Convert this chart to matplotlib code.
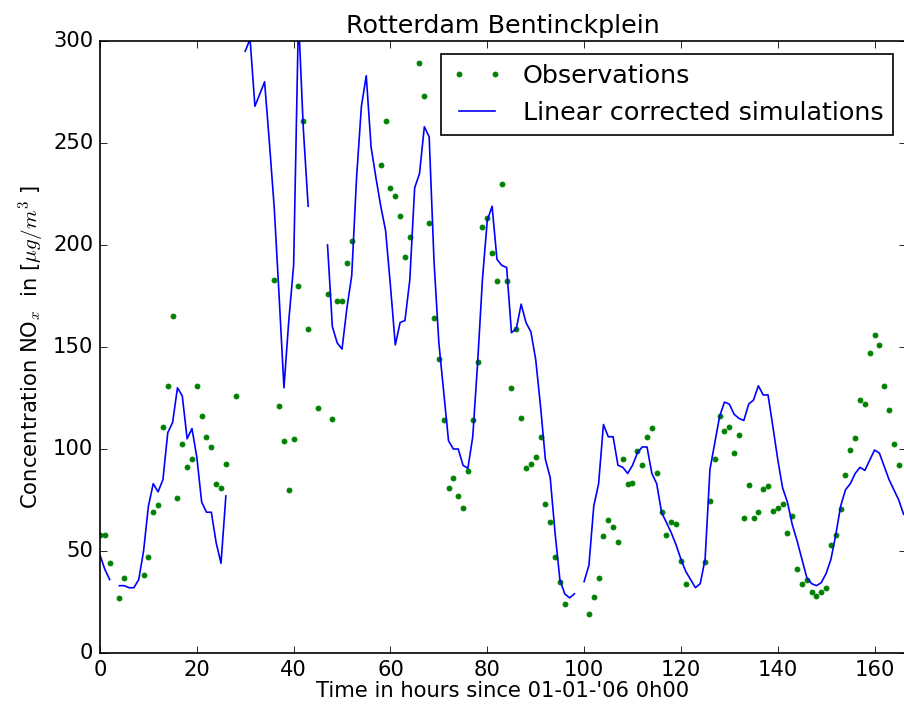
import numpy as np
import matplotlib
matplotlib.use('Agg')
import matplotlib.pyplot as plt

nan = np.nan

hours = np.arange(167)

# observed NOx concentrations (ug/m3), nan where missing
obs = [58, 58, 44, nan, 27, 37, nan, nan, nan, 38,
       47, 69, 72.5, 111, 131, 165, 76, 102.5, 91, 95,
       131, 116, 106, 101, 83, 81, 92.5, nan, 126, nan,
       nan, nan, nan, nan, nan, nan, 183, 121, 104, 80,
       105, 180, 261, 159, nan, 120, nan, 176, 114.5, 172.5,
       172.5, 191, 202, nan, nan, nan, nan, nan, 239, 261,
       228, 224, 214, 194, 204, nan, 289, 273, 211, 164,
       144, 114, 81, 86, 77, 71, 89, 114, 142.5, 209,
       213, 196, 182.5, 230, 182.5, 130, 159, 115, 90.5, 92.5,
       96, 106, 73, 64, 47, 35, 24, nan, nan, nan,
       nan, 19, 27.5, 37, 57.5, 65, 62, 54.5, 95, 83,
       83.5, 99, 92, 106, 110.5, 88, 69, 58, 64, 63,
       45, 34, nan, nan, nan, 44.5, 74.5, 95, 116, 109,
       111, 98, 107, 66, 82.5, 66, 69, 80.5, 82, 69.5,
       71, 73, 59, 67, 41, 34, 36, 30, 28, 30,
       32, 53, 58, 70.5, 87.5, 99.5, 105.5, 124, 122, 147,
       156, 151, 131, 119, 102.5, 92, nan]

# linear corrected simulations
sim = [48, 41, 36, nan, 33, 33, 32, 32, 36, 50,
       72, 83, 79, 85, 108, 113, 130, 126, 105, 110,
       96, 74, 69, 69, 54, 44, 77, nan, nan, nan,
       295, 301, 268, 274, 280, 250, 218, 175, 130, 163,
       190, 312, 257, 219, nan, nan, nan, 200, 160, 152,
       149, 169, 185, 233, 268, 283, 248, 233, 219, 207,
       180, 151, 162, 163, 183, 228, 235, 258, 253, 192,
       152, 128, 104, 100, 100, 92, 90.5, 106, 142, 183,
       212, 219, 193, 190, 189, 157, 159, 171, 162, 157.5,
       144, 121, 95, 86, 59, 36, 29, 27, 29, nan,
       35, 43, 72, 83, 112, 106, 106, 92, 91, 88,
       92, 98, 101, 101, 88, 83, 69, 64, 59, 53,
       46, 40, 36, 32, 34, 46, 90, 103, 116, 123,
       122, 117, 115, 114, 122, 124, 131, 126.5, 126.5, 111,
       95, 81, 74, 63, 55, 46, 37, 34, 33, 34.5,
       39, 46, 58, 72, 80, 83, 88, 91, 89.5, 94.5,
       99.5, 98, 91.5, 85, 80, 75, 68]

plt.style.use('classic')
plt.rcParams['font.size'] = 12.7

fig = plt.figure(figsize=(904 / 120.0, 704 / 120.0), dpi=120, facecolor='white')
ax = fig.add_axes([100 / 904.0, 51 / 704.0, 806 / 904.0, 612 / 704.0])

ax.plot(hours, obs, 'g.', label='Observations')
ax.plot(hours, sim, 'b-', label='Linear corrected simulations')

ax.set_xlim(0, 166.5)
ax.set_ylim(0, 300)
ax.set_xticks(range(0, 161, 20))
ax.set_yticks(range(0, 301, 50))
ax.set_title('Rotterdam Bentinckplein')
ax.set_xlabel("Time in hours since 01-01-'06 0h00", labelpad=1)
ax.set_ylabel(r'Concentration NO$_x$  in [$\mu g/m^3$ ]')
ax.legend(loc='upper right')

fig.savefig('out.png', dpi=120, facecolor='white')
